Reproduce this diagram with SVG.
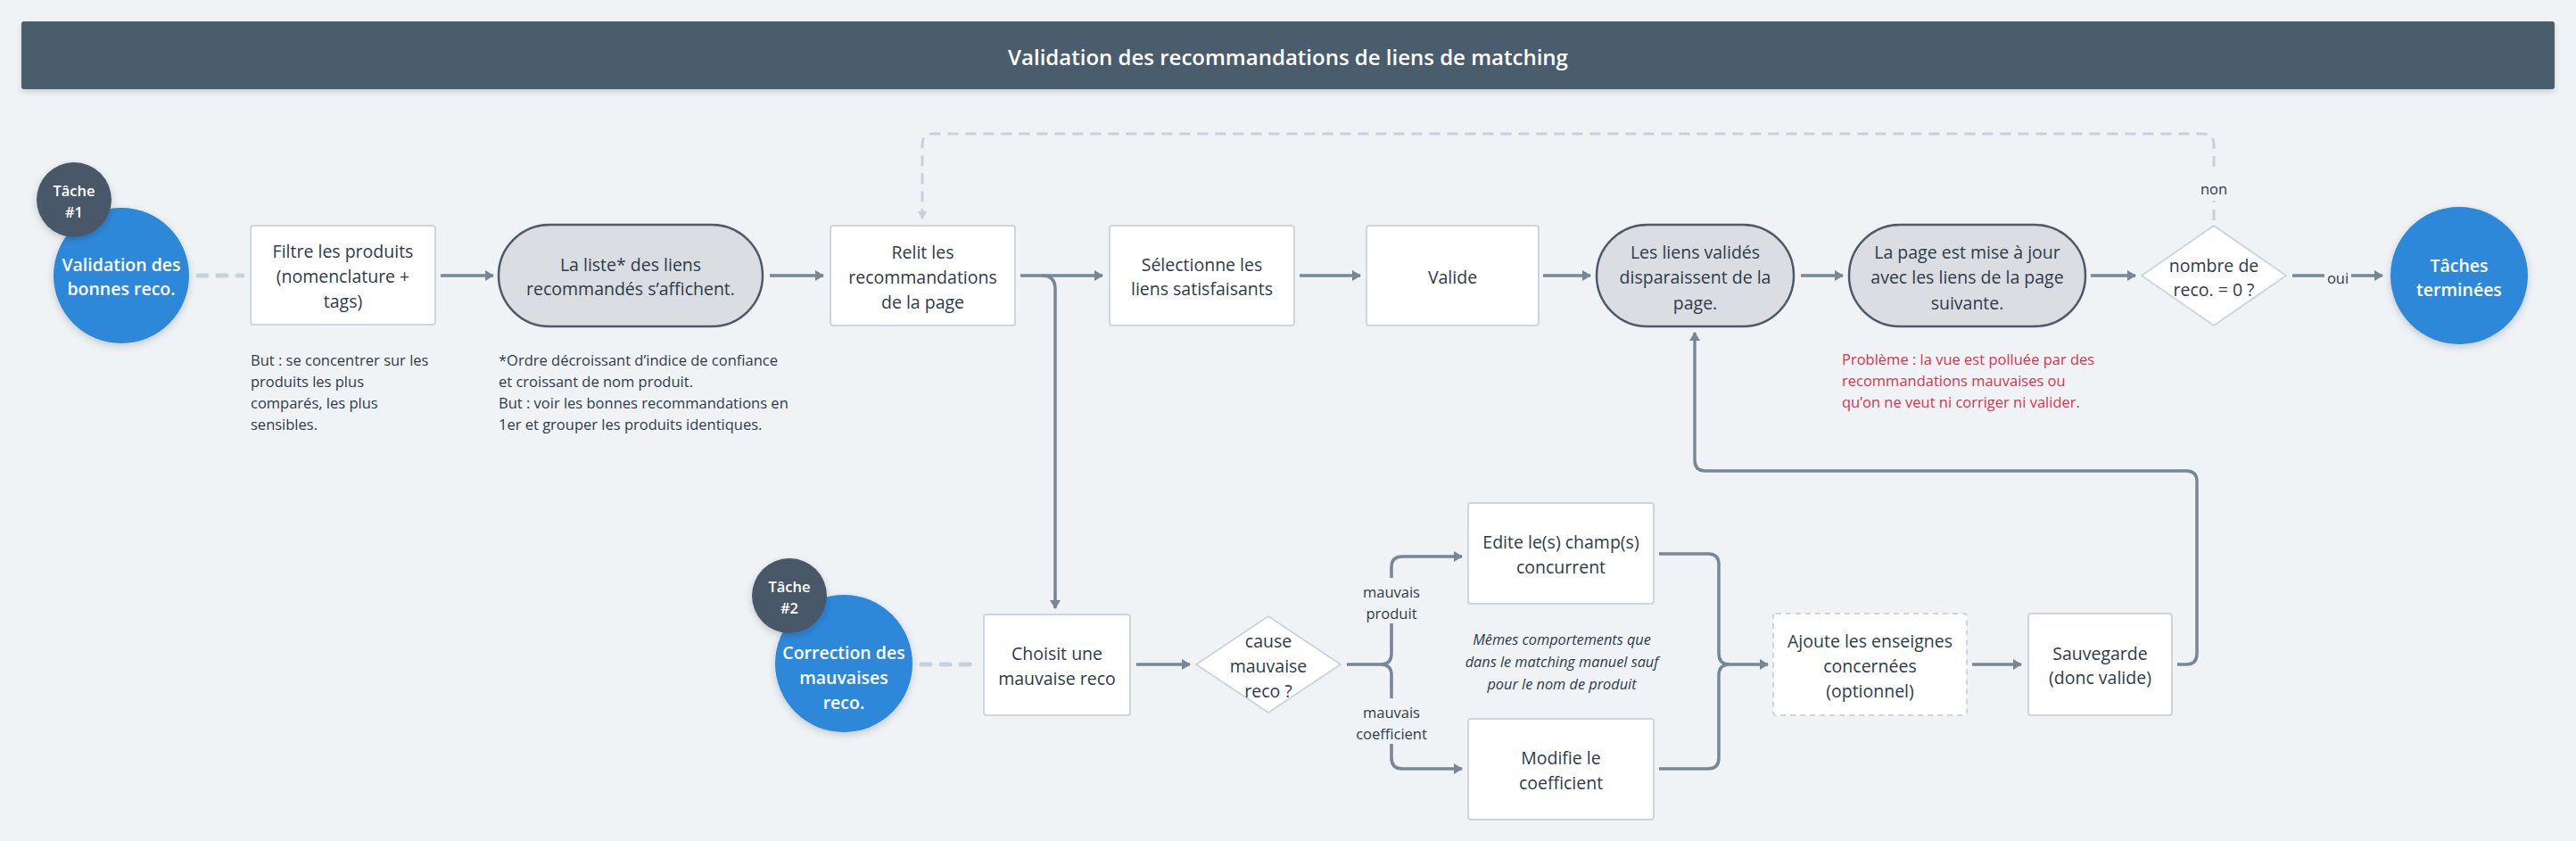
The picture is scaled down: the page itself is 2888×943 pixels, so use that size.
<svg xmlns="http://www.w3.org/2000/svg" width="2888" height="943" viewBox="0 0 2888 943">
<style>
text{font-family:"Open Sans","Noto Sans","Liberation Sans",sans-serif;dominant-baseline:central}
.box{fill:#fff;stroke:#cdd6df;stroke-width:2}
.pill{fill:#dadee2;stroke:#4c5b69;stroke-width:2.5}
.t{font-size:19.5px;fill:#2e3b48;text-anchor:middle}
.tw{font-size:19.5px;fill:#fff;text-anchor:middle;font-weight:600}
.tag{font-size:16.5px;fill:#fff;text-anchor:middle;font-weight:600}
.note{font-size:16.5px;fill:#2e3b48}
.red{font-size:16.5px;fill:#d8344c}
.lbl{font-size:16.5px;fill:#2e3b48;text-anchor:middle}
.it{font-size:16.3px;fill:#2e3b48;text-anchor:middle;font-style:italic}
.c{fill:none;stroke:#788795;stroke-width:3.5}
.d{fill:none;stroke:#c7d1db;stroke-width:5;stroke-dasharray:10 12;stroke-linecap:round}
.d2{fill:none;stroke:#c7d1db;stroke-width:3;stroke-dasharray:12 8}
.blue{fill:#2d88d9}
.dark{fill:#4a5968}
</style>
<defs>
<marker id="ah" viewBox="0 0 10 12" refX="9" refY="6" markerWidth="10" markerHeight="12" markerUnits="userSpaceOnUse" orient="auto">
<path d="M0,0 L10,6 L0,12 Z" fill="#788795"/>
</marker>
<marker id="ahl" viewBox="0 0 10 12" refX="9" refY="6" markerWidth="9" markerHeight="11" markerUnits="userSpaceOnUse" orient="auto">
<path d="M0,0 L10,6 L0,12 Z" fill="#c7d1db"/>
</marker>
<filter id="sh" x="-20%" y="-20%" width="140%" height="150%">
<feDropShadow dx="0" dy="3" stdDeviation="4" flood-color="#000" flood-opacity="0.18"/>
</filter>
<filter id="shh" x="-2%" y="-20%" width="104%" height="160%">
<feDropShadow dx="0" dy="3" stdDeviation="3" flood-color="#000" flood-opacity="0.15"/>
</filter>
</defs>
<rect width="2888" height="943" fill="#eff3f6"/>

<g id="header">
<rect x="24" y="24" width="2840" height="76" rx="3" fill="#4a5d6d" filter="url(#shh)"/>
<text x="1444" y="63" style="font-size:24px;fill:#fff;text-anchor:middle;font-weight:600">Validation des recommandations de liens de matching</text>
</g>

<g id="connectors">
<line class="d" x1="222" y1="309" x2="272" y2="309"/>
<line class="d" x1="1033" y1="745" x2="1088" y2="745"/>
<path class="c" d="M494,309 H553" marker-end="url(#ah)"/>
<path class="c" d="M863,309 H923" marker-end="url(#ah)"/>
<path class="c" d="M1144,309 H1236" marker-end="url(#ah)"/>
<path class="c" d="M1168,309 Q1183,309 1183,324 V682" marker-end="url(#ah)"/>
<path class="c" d="M1457,309 H1525" marker-end="url(#ah)"/>
<path class="c" d="M1730,309 H1783" marker-end="url(#ah)"/>
<path class="c" d="M2019,309 H2066" marker-end="url(#ah)"/>
<path class="c" d="M2344,309 H2394" marker-end="url(#ah)"/>
<path class="c" d="M2570,309 H2606"/>
<path class="c" d="M2636,309 H2671" marker-end="url(#ah)"/>
<text class="lbl" x="2621" y="311">oui</text>
<path class="d2" d="M2482,247 V162 Q2482,150 2470,150 H1046 Q1034,150 1034,162 V245" marker-end="url(#ahl)"/>
<rect x="2460" y="194" width="44" height="31" fill="#eff3f6"/>
<text class="lbl" x="2482" y="211">non</text>
<path class="c" d="M2441,745 H2451 Q2463,745 2463,733 V540 Q2463,528 2451,528 H1912 Q1900,528 1900,516 V373" marker-end="url(#ah)"/>
<path class="c" d="M1274,745 H1334" marker-end="url(#ah)"/>
<path class="c" d="M1510,745 H1548 Q1560,745 1560,733 V699"/>
<path class="c" d="M1560,648 V636 Q1560,624 1572,624 H1639" marker-end="url(#ah)"/>
<path class="c" d="M1548,745 Q1560,745 1560,757 V783"/>
<path class="c" d="M1560,834 V850 Q1560,862 1572,862 H1639" marker-end="url(#ah)"/>
<text class="lbl" x="1560" y="663">mauvais</text>
<text class="lbl" x="1560" y="687">produit</text>
<text class="lbl" x="1560" y="798">mauvais</text>
<text class="lbl" x="1560" y="822">coefficient</text>
<path class="c" d="M1860,621 H1915 Q1927,621 1927,633 V733 Q1927,745 1939,745 H1982" marker-end="url(#ah)"/>
<path class="c" d="M1860,862 H1915 Q1927,862 1927,850 V757 Q1927,745 1939,745"/>
<path class="c" d="M2211,745 H2266" marker-end="url(#ah)"/>
</g>

<g id="task1">
<circle class="blue" cx="136" cy="309" r="76" filter="url(#sh)"/>
<text class="tw" x="136" y="296">Validation des</text>
<text class="tw" x="136" y="323">bonnes reco.</text>
<circle class="dark" cx="83" cy="224" r="42" filter="url(#sh)"/>
<text class="tag" x="83" y="213">Tâche</text>
<text class="tag" x="83" y="237">#1</text>
</g>

<g id="filtre">
<rect class="box" x="281" y="253" width="207" height="111" rx="3"/>
<text class="t" x="384.5" y="281">Filtre les produits</text>
<text class="t" x="384.5" y="309">(nomenclature +</text>
<text class="t" x="384.5" y="337">tags)</text>
</g>
<g id="note-filtre">
<text class="note" x="281" y="403">But : se concentrer sur les</text>
<text class="note" x="281" y="427">produits les plus</text>
<text class="note" x="281" y="451">comparés, les plus</text>
<text class="note" x="281" y="475">sensibles.</text>
</g>

<g id="liste">
<rect class="pill" x="559" y="252" width="296" height="114" rx="57"/>
<text class="t" x="707" y="296">La liste* des liens</text>
<text class="t" x="707" y="323">recommandés s’affichent.</text>
</g>
<g id="note-liste">
<text class="note" x="559" y="403">*Ordre décroissant d’indice de confiance</text>
<text class="note" x="559" y="427">et croissant de nom produit.</text>
<text class="note" x="559" y="451">But : voir les bonnes recommandations en</text>
<text class="note" x="559" y="475">1er et grouper les produits identiques.</text>
</g>

<g id="relit">
<rect class="box" x="931" y="253" width="207" height="112" rx="3"/>
<text class="t" x="1034.5" y="282">Relit les</text>
<text class="t" x="1034.5" y="310">recommandations</text>
<text class="t" x="1034.5" y="338">de la page</text>
</g>

<g id="selectionne">
<rect class="box" x="1244" y="253" width="207" height="112" rx="3"/>
<text class="t" x="1347.5" y="296">Sélectionne les</text>
<text class="t" x="1347.5" y="323">liens satisfaisants</text>
</g>

<g id="valide">
<rect class="box" x="1532" y="253" width="193" height="112" rx="3"/>
<text class="t" x="1628.5" y="310">Valide</text>
</g>

<g id="disparaissent">
<rect class="pill" x="1790" y="252" width="221" height="114" rx="57"/>
<text class="t" x="1900.5" y="282">Les liens validés</text>
<text class="t" x="1900.5" y="310">disparaissent de la</text>
<text class="t" x="1900.5" y="339">page.</text>
</g>

<g id="miseajour">
<rect class="pill" x="2073" y="252" width="265" height="114" rx="57"/>
<text class="t" x="2205.5" y="282">La page est mise à jour</text>
<text class="t" x="2205.5" y="310">avec les liens de la page</text>
<text class="t" x="2205.5" y="339">suivante.</text>
</g>
<g id="note-probleme">
<text class="red" x="2065" y="402">Problème : la vue est polluée par des</text>
<text class="red" x="2065" y="426">recommandations mauvaises ou</text>
<text class="red" x="2065" y="450">qu’on ne veut ni corriger ni valider.</text>
</g>

<g id="nombre">
<path d="M2482,253 L2563,309 L2482,365 L2401,309 Z" fill="#fff" stroke="#cdd6df" stroke-width="2" stroke-linejoin="round"/>
<text class="t" x="2482" y="297">nombre de</text>
<text class="t" x="2482" y="324">reco. = 0 ?</text>
</g>

<g id="terminees">
<circle class="blue" cx="2757" cy="309" r="77" filter="url(#sh)"/>
<text class="tw" x="2757" y="297">Tâches</text>
<text class="tw" x="2757" y="324">terminées</text>
</g>

<g id="task2">
<circle class="blue" cx="946" cy="744" r="77" filter="url(#sh)"/>
<text class="tw" x="946" y="731">Correction des</text>
<text class="tw" x="946" y="759">mauvaises</text>
<text class="tw" x="946" y="787">reco.</text>
<circle class="dark" cx="885" cy="668" r="42" filter="url(#sh)"/>
<text class="tag" x="885" y="657">Tâche</text>
<text class="tag" x="885" y="681">#2</text>
</g>

<g id="choisit">
<rect class="box" x="1103" y="689" width="164" height="113" rx="3"/>
<text class="t" x="1185" y="732">Choisit une</text>
<text class="t" x="1185" y="760">mauvaise reco</text>
</g>

<g id="cause">
<path d="M1422,691 L1503,745 L1422,799 L1341,745 Z" fill="#fff" stroke="#cdd6df" stroke-width="2" stroke-linejoin="round"/>
<text class="t" x="1422" y="718">cause</text>
<text class="t" x="1422" y="746">mauvaise</text>
<text class="t" x="1422" y="774">reco ?</text>
</g>

<g id="edite">
<rect class="box" x="1646" y="564" width="208" height="113" rx="3"/>
<text class="t" x="1750" y="607">Edite le(s) champ(s)</text>
<text class="t" x="1750" y="635">concurrent</text>
</g>
<g id="note-memes">
<text class="it" x="1751" y="717">Mêmes comportements que</text>
<text class="it" x="1751" y="742">dans le matching manuel sauf</text>
<text class="it" x="1751" y="767">pour le nom de produit</text>
</g>

<g id="modifie">
<rect class="box" x="1646" y="806" width="208" height="113" rx="3"/>
<text class="t" x="1750" y="849">Modifie le</text>
<text class="t" x="1750" y="877">coefficient</text>
</g>

<g id="ajoute">
<rect x="1988" y="688" width="217" height="114" rx="3" fill="#fff" stroke="#cdd6df" stroke-width="2" stroke-dasharray="6 5"/>
<text class="t" x="2096.5" y="718">Ajoute les enseignes</text>
<text class="t" x="2096.5" y="746">concernées</text>
<text class="t" x="2096.5" y="774">(optionnel)</text>
</g>

<g id="sauvegarde">
<rect class="box" x="2274" y="688" width="161" height="114" rx="3"/>
<text class="t" x="2354.5" y="732">Sauvegarde</text>
<text class="t" x="2354.5" y="759">(donc valide)</text>
</g>
</svg>
